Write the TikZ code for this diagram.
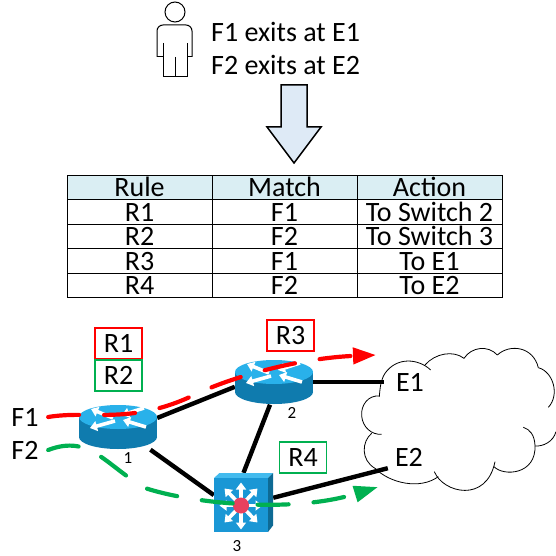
\documentclass[tikz,border=0pt]{standalone}
\usepackage{fontspec}
\setmainfont{Carlito}
\usetikzlibrary{arrows.meta}

\definecolor{rtop}{HTML}{29B1EA}
\definecolor{rside}{HTML}{0F7BAE}
\definecolor{swfront}{HTML}{1A97D5}
\definecolor{swtop}{HTML}{43BBEE}
\definecolor{swside}{HTML}{0E6A94}
\definecolor{swdot}{HTML}{E8415F}
\definecolor{flowred}{HTML}{FF0000}
\definecolor{flowgreen}{HTML}{00B050}
\definecolor{headcell}{HTML}{DAEEF3}
\definecolor{arrowfill}{HTML}{DEEAF6}

\newcommand{\router}[1]{
    \begin{scope}[shift={(#1)}]
        \fill[rside] (0, 10) ellipse [x radius=39, y radius=12];
        \fill[rside] (-39, -10) rectangle (39, 10);
        \fill[rtop]  (0, -10) ellipse [x radius=39, y radius=12];
        \draw [wharrow] (-5, -9) -- (-27, -18);
        \draw [wharrow] (-3, -6) -- (-28, 1);
        \draw [wharrow] (26, -19) -- (4, -12);
        \draw [wharrow] (28, 0) -- (5, -7);
    \end{scope}
}

\newcommand{\switch}[1]{
    \begin{scope}[shift={(#1)}]
        \fill[swtop]   (-29.5, -24.5) -- (-24, -29.5) -- (29.5, -29.5) -- (24.5, -24.5) -- cycle;
        \fill[swside]  (24.5, -24.5) -- (29.5, -29.5) -- (29.5, 23) -- (24.5, 29.5) -- cycle;
        \fill[swfront] (-29.5, -24.5) rectangle (24.5, 29.5);
        \draw [wharrow] (-2.5, 3) -- (-2.5, -20);
        \draw [wharrow] (-2.5, 3) -- (-2.5, 27);
        \draw [wharrow] (-2.5, 3) -- (-24, 3);
        \draw [wharrow] (-2.5, 3) -- (19, 3);
        \draw [wharrow] (-2.5, 3) -- (-19, -14);
        \draw [wharrow] (-2.5, 3) -- (14, -14);
        \draw [wharrow] (-2.5, 3) -- (-19, 20);
        \draw [wharrow] (-2.5, 3) -- (14, 20);
        \fill[swdot] (-2.5, 3) circle (8);
    \end{scope}
}

\begin{document}
\begin{tikzpicture}
    \tikzset{x=1pt, y=-1pt}
    \tikzstyle{big}=[font=\fontsize{28}{32}\selectfont, inner sep=0pt]
    \tikzstyle{cell}=[big, rectangle, draw, line width=1pt, minimum height=24.5pt, text height=18pt, text depth=0pt]
    \tikzstyle{colr}=[cell, minimum width=145pt]
    \tikzstyle{colm}=[cell, minimum width=145pt]
    \tikzstyle{cola}=[cell, minimum width=145pt]
    \tikzstyle{head}=[fill=headcell]
    \tikzstyle{rule}=[big, rectangle, draw, line width=1.6pt, minimum width=47pt, minimum height=31.5pt]
    \tikzstyle{dev}=[rectangle, inner sep=0pt, minimum width=78pt, minimum height=45pt]
    \tikzstyle{num}=[font=\fontsize{17}{19}\selectfont, inner sep=0pt]
    \tikzstyle{link}=[line width=4.4pt, black]
    \tikzstyle{cld}=[line width=0.8pt]
    \tikzset{wharrow/.style={white, line width=3.6pt, -{Triangle[length=7pt, width=10pt]}}}
    \tikzstyle{flow}=[line width=4.2pt, line cap=round, dash pattern=on 31pt off 25pt]

    \useasboundingbox (0, 0) rectangle (556, 556);

    % user and intent
    \draw [line width=1pt] (175, 12) circle (10);
    \draw [line width=1pt, rounded corners=6pt] (157, 57) -- (157, 25) -- (192, 25) -- (192, 57);
    \draw [line width=1pt] (157, 57) -- (163, 57);
    \draw [line width=1pt] (192, 57) -- (187, 57);
    \draw [line width=1pt] (163, 43) -- (163, 77) -- (187, 77) -- (187, 43);
    \draw [line width=1pt] (175, 57) -- (175, 77);
    \draw (211, 32)     node[big, anchor=west]  (t1)    {F1 exits at E1};
    \draw (211, 65)     node[big, anchor=west]  (t2)    {F2 exits at E2};
    \draw [line width=1.5pt, fill=arrowfill] (281, 85) -- (307, 85) -- (307, 127) -- (321, 127) -- (294, 163) -- (267, 127) -- (281, 127) -- cycle;

    % rule table
    \draw (139.5, 187.5) node[colr, head] (c00) {Rule};
    \draw (284.5, 187.5) node[colm, head] (c01) {Match};
    \draw (429.5, 187.5) node[cola, head] (c02) {Action};
    \draw (139.5, 212)   node[colr]       (c10) {R1};
    \draw (284.5, 212)   node[colm]       (c11) {F1};
    \draw (429.5, 212)   node[cola]       (c12) {To Switch 2};
    \draw (139.5, 236.5) node[colr]       (c20) {R2};
    \draw (284.5, 236.5) node[colm]       (c21) {F2};
    \draw (429.5, 236.5) node[cola]       (c22) {To Switch 3};
    \draw (139.5, 261)   node[colr]       (c30) {R3};
    \draw (284.5, 261)   node[colm]       (c31) {F1};
    \draw (429.5, 261)   node[cola]       (c32) {To E1};
    \draw (139.5, 285.5) node[colr]       (c40) {R4};
    \draw (284.5, 285.5) node[colm]       (c41) {F2};
    \draw (429.5, 285.5) node[cola]       (c42) {To E2};

    % cloud
    \begin{scope}[shift={(340, 320)}, x=0.3333pt, y=-0.3333pt]
        \draw [cld] (272, 150) .. controls (235, 115) and (170, 110) .. (135, 160) .. controls (122, 180) and (120, 205) .. (118, 230);
        \draw [cld] (118, 228) .. controls (85, 225) and (62, 255) .. (65, 288) .. controls (68, 322) and (95, 345) .. (125, 343);
        \draw [cld] (95, 340) .. controls (65, 365) and (62, 420) .. (105, 445) .. controls (150, 490) and (240, 510) .. (295, 470);
        \draw [cld] (283, 455) .. controls (310, 520) and (440, 550) .. (465, 425);
        \draw [cld] (462, 440) .. controls (490, 470) and (590, 465) .. (585, 375) .. controls (583, 345) and (570, 328) .. (550, 322);
        \draw [cld] (585, 378) .. controls (610, 380) and (640, 365) .. (648, 335);
        \draw [cld] (255, 135) .. controls (285, 100) and (340, 90) .. (372, 115);
        \draw [cld] (372, 115) .. controls (395, 80) and (445, 75) .. (472, 105);
        \draw [cld] (472, 105) .. controls (510, 70) and (580, 80) .. (595, 143);
        \draw [cld] (595, 143) .. controls (640, 155) and (660, 225) .. (625, 262);
    \end{scope}

    % network
    \draw (118, 427)    node[dev]   (r1)    {};
    \draw (274, 382)    node[dev]   (r2)    {};
    \draw (243.5, 502.5) node[dev, minimum width=59pt, minimum height=59pt] (s3) {};
    \draw (410, 382)    node[big, minimum width=52pt]   (e1)    {E1};
    \draw (409, 457)    node[big, minimum width=42pt, minimum height=22pt]  (e2)    {E2};
    \draw (25, 417)     node[big, minimum width=46pt]   (f1)    {F1};
    \draw (25, 450)     node[big, minimum width=46pt]   (f2)    {F2};
    \coordinate (f1end) at (376, 355);
    \coordinate (f2end) at (378, 487);

    \draw [link] (r1.13)    -- (r2.187);
    \draw [link] (r1.-35)   -- (s3.166);
    \draw [link] (r2.260)   -- (s3.north);
    \draw [link] (r2.east)  -- (e1.west);
    \draw [link] (s3.9)     -- (e2.south west);

    \router{r1}
    \router{r2}
    \switch{s3}

    \draw (128, 458)    node[num]   (n1)    {1};
    \draw (292, 413)    node[num]   (n2)    {2};
    \draw (237, 546)    node[num]   (n3)    {3};

    \draw (118.5, 343.5) node[rule, draw=flowred]   (b1)    {R1};
    \draw (118.5, 375.5) node[rule, draw=flowgreen] (b2)    {R2};
    \draw (290.5, 335.5) node[rule, draw=flowred]   (b3)    {R3};
    \draw (303, 457.5)   node[rule, draw=flowgreen] (b4)    {R4};

    % flows
    \draw [flow, flowred, -{Triangle[length=23pt, width=16pt]}] (f1.east)
        .. controls (90, 410) and (130, 425) .. (192, 396)
        .. controls (230, 377) and (300, 358) .. (f1end);
    \draw [flow, flowgreen, -{Triangle[length=24pt, width=16pt]}] (f2.east)
        .. controls (90, 434) and (105, 465) .. (145, 488)
        .. controls (190, 503) and (290, 514) .. (f2end);
\end{tikzpicture}
\end{document}
